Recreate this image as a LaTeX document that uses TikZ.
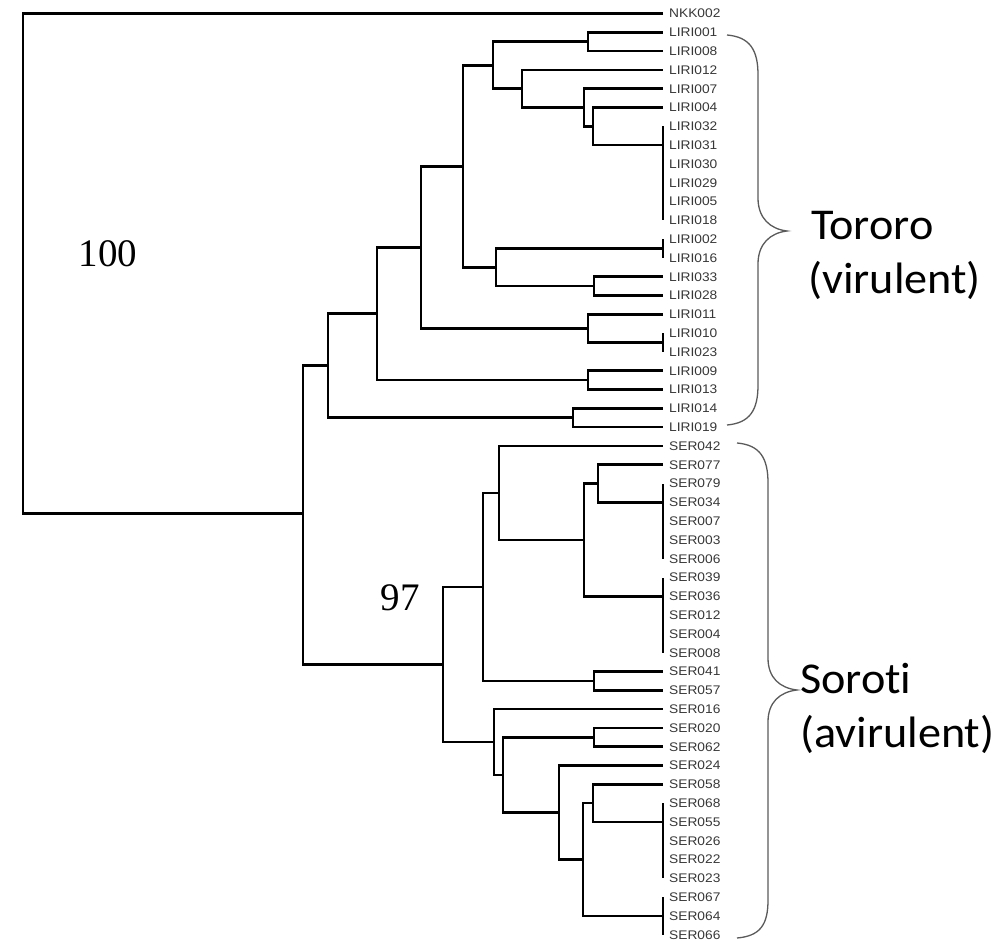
\documentclass[tikz,border=0pt]{standalone}
\usepackage{fontspec}
\setmainfont{Liberation Serif}
\newfontfamily\leaffont[FakeStretch=1.1]{Liberation Sans}
\newfontfamily\groupfont[FakeStretch=1.05,RawFeature=-liga]{Carlito}
\definecolor{leafgray}{RGB}{55,55,55}
\definecolor{bracegray}{RGB}{90,90,90}
\begin{document}
\begin{tikzpicture}[x=1pt,y=-1pt,
  branch/.style={line width=2.7pt, draw=black},
  leaf/.style={font={\leaffont\fontsize{12.5}{14}\selectfont}, text=leafgray, inner sep=0pt, anchor=west},
  grouplabel/.style={font={\groupfont\fontsize{44}{52}\selectfont}, inner sep=0pt, anchor=base west},
  support/.style={font={\fontsize{39}{44}\selectfont}, inner sep=0pt},
  bracepath/.style={line width=1.3pt, draw=bracegray}]
\useasboundingbox (0,0) rectangle (999,941);

% leaf tips and labels
\foreach \n [count=\i from 0] in {NKK002,LIRI001,LIRI008,LIRI012,LIRI007,LIRI004,LIRI032,LIRI031,LIRI030,LIRI029,LIRI005,LIRI018,LIRI002,LIRI016,LIRI033,LIRI028,LIRI011,LIRI010,LIRI023,LIRI009,LIRI013,LIRI014,LIRI019,SER042,SER077,SER079,SER034,SER007,SER003,SER006,SER039,SER036,SER012,SER004,SER008,SER041,SER057,SER016,SER020,SER062,SER024,SER058,SER068,SER055,SER026,SER022,SER023,SER067,SER064,SER066}{
  \coordinate (t\i) at (663,{13.5+18.8*\i});
  \node[leaf] (l\i) at (669,{13.5+18.8*\i}) {\n};
}

% internal nodes (Tororo)
\coordinate (A) at (588,41.7);
\coordinate (P1) at (663,145.1);
\coordinate (B) at (593,126.3);
\coordinate (C) at (584,107.5);
\coordinate (D) at (522,88.7);
\coordinate (E) at (493,65.2);
\coordinate (P2) at (663,248.5);
\coordinate (F) at (594,286.1);
\coordinate (G) at (496,267.3);
\coordinate (H) at (463,166.3);
\coordinate (P3) at (663,342.5);
\coordinate (I) at (588,328.4);
\coordinate (J) at (421,247.3);
\coordinate (K) at (588,380.1);
\coordinate (L) at (377,313.7);
\coordinate (M) at (573,417.7);
\coordinate (N) at (328,365.7);
% internal nodes (Soroti)
\coordinate (P4) at (663,502.3);
\coordinate (S1) at (598,483.5);
\coordinate (P5) at (663,596.3);
\coordinate (S2) at (584,539.9);
\coordinate (S3) at (499,492.9);
\coordinate (S4) at (594,680.9);
\coordinate (S5) at (483,586.9);
\coordinate (S6) at (594,737.3);
\coordinate (P6) at (663,821.9);
\coordinate (S7) at (593,803.1);
\coordinate (P7) at (663,915.9);
\coordinate (S8) at (583,859.5);
\coordinate (S9) at (559,812.5);
\coordinate (S10) at (503,774.9);
\coordinate (S11) at (494,742.0);
\coordinate (S12) at (443,664.5);
\coordinate (R1) at (303,513.5);
\coordinate (R0) at (23,13.5);

% branches
\draw[branch] (t0) -- (R0) |- (R1);
\foreach \p/\c in {A/t1,A/t2,
  P1/t6,P1/t7,P1/t8,P1/t9,P1/t10,P1/t11,
  B/t5,B/P1,C/t4,C/B,D/t3,D/C,E/A,E/D,
  P2/t12,P2/t13,F/t14,F/t15,G/P2,G/F,H/E,H/G,
  P3/t17,P3/t18,I/t16,I/P3,J/H,J/I,K/t19,K/t20,L/J,L/K,
  M/t21,M/t22,N/L,N/M,
  P4/t25,P4/t26,P4/t27,P4/t28,P4/t29,S1/t24,S1/P4,
  P5/t30,P5/t31,P5/t32,P5/t33,P5/t34,S2/S1,S2/P5,
  S3/t23,S3/S2,S4/t35,S4/t36,S5/S3,S5/S4,
  S6/t38,S6/t39,P6/t42,P6/t43,P6/t44,P6/t45,P6/t46,
  S7/t41,S7/P6,P7/t47,P7/t48,P7/t49,S8/S7,S8/P7,
  S9/t40,S9/S8,S10/S6,S10/S9,S11/t37,S11/S10,
  S12/S5,S12/S11,R1/N,R1/S12}
  \draw[branch] (\p) |- (\c);

% support values
\node[support] (b100) at (108,254) {100};
\node[support] (b97) at (400,598) {97};

% braces
\draw[bracepath] (727,35) .. controls (750,37) and (758,50) .. (758,75)
  -- (758,198) .. controls (758,218) and (770,229) .. (787,231)
  .. controls (770,233) and (758,244) .. (758,264)
  -- (758,385) .. controls (758,410) and (750,423) .. (727,425);
\draw[bracepath] (737,443) .. controls (760,445) and (768,458) .. (768,483)
  -- (768,658) .. controls (768,678) and (780,688) .. (797,690)
  .. controls (780,692) and (768,702) .. (768,722)
  -- (768,900) .. controls (768,925) and (760,936) .. (737,938);

% group labels
\node[grouplabel] (tor1) at (811,240) {Tororo};
\node[grouplabel] (tor2) at (808,294) {(virulent)};
\node[grouplabel] (sor1) at (800,693) {Soroti};
\node[grouplabel] (sor2) at (800,747) {(avirulent)};
\end{tikzpicture}
\end{document}
